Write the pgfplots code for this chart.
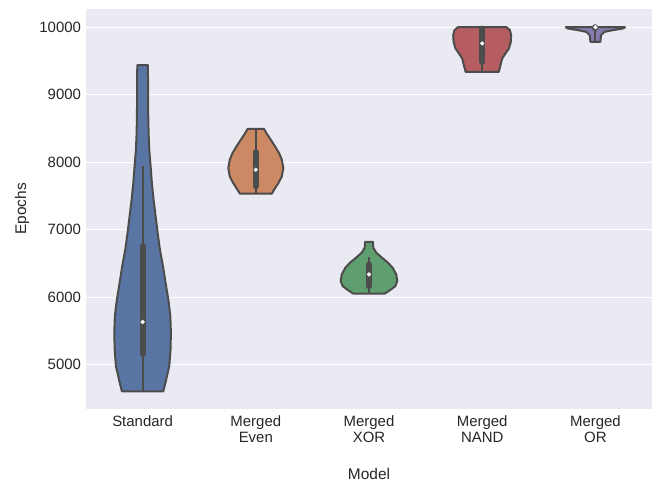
\documentclass[border=0pt]{standalone}
\usepackage{pgfplots}
\pgfplotsset{compat=1.18}
\usepackage{fontspec}
\setmainfont{Liberation Sans}
\definecolor{bgc}{HTML}{EAEAF2}
\definecolor{edgec}{HTML}{4C4C4C}
\definecolor{cA}{HTML}{5975A4}
\definecolor{cB}{HTML}{CC8963}
\definecolor{cC}{HTML}{5F9E6E}
\definecolor{cD}{HTML}{B55D60}
\definecolor{cE}{HTML}{857AAB}
\begin{document}
\begin{tikzpicture}
\useasboundingbox (-86bp,-74bp) rectangle (569bp,409bp);
\begin{axis}[
  at={(0,0)}, anchor=south west,
  scale only axis, width=566bp, height=400bp,
  xmin=-0.5, xmax=4.5, ymin=4340, ymax=10270,
  axis background/.style={fill=bgc},
  axis line style={draw=none},
  tick style={draw=none},
  ymajorgrids, grid style={white, line width=1bp},
  xtick={0,1,2,3,4},
  xticklabels={Standard, Merged\\Even, Merged\\XOR, Merged\\NAND, Merged\\OR},
  ytick={5000,6000,7000,8000,9000,10000},
  scaled y ticks=false,
  /pgf/number format/assume math mode=true,
  yticklabel={\pgfmathprintnumber[fixed,precision=0,1000 sep={}]{\tick}},
  tick label style={font=\fontsize{15}{16.5}\selectfont, text=black!85},
  xticklabel style={align=center, yshift=-3bp},
  yticklabel style={xshift=-1.5bp},
  xlabel={Model}, ylabel={Epochs},
  label style={font=\fontsize{15.5}{17}\selectfont, text=black!85},
  xlabel style={at={(axis description cs:0.5,-0.162)}, anchor=center},
  ylabel style={at={(axis description cs:-0.113,0.5)}, anchor=center},
  clip=false,
]
% violins
\addplot[fill=cA, draw=edgec, line width=2bp, line join=round] coordinates {
(0.183,4602) (0.203,4735) (0.236,4980) (0.247,5227) (0.25,5473) (0.245,5719) (0.227,5966) (0.203,6212) (0.18,6458) (0.153,6705) (0.133,6951) (0.115,7197) (0.097,7443) (0.082,7690) (0.071,7936) (0.059,8182) (0.053,8429) (0.05,8675) (0.047,9438)
(-0.047,9438) (-0.05,8675) (-0.053,8429) (-0.059,8182) (-0.071,7936) (-0.082,7690) (-0.097,7443) (-0.115,7197) (-0.133,6951) (-0.153,6705) (-0.18,6458) (-0.203,6212) (-0.227,5966) (-0.245,5719) (-0.25,5473) (-0.247,5227) (-0.236,4980) (-0.203,4735) (-0.183,4602)} -- cycle;
\addplot[fill=cB, draw=edgec, line width=2bp, line join=round] coordinates {
(1.141,7532) (1.162,7591) (1.2,7690) (1.23,7788) (1.243,7912) (1.23,8035) (1.206,8133) (1.171,8231) (1.133,8330) (1.094,8429) (1.072,8493)
(0.928,8493) (0.906,8429) (0.867,8330) (0.829,8231) (0.794,8133) (0.77,8035) (0.757,7912) (0.77,7788) (0.8,7690) (0.838,7591) (0.859,7532)} -- cycle;
\addplot[fill=cC, draw=edgec, line width=2bp, line join=round] coordinates {
(2.139,6050) (2.183,6099) (2.233,6162) (2.25,6236) (2.241,6335) (2.209,6434) (2.168,6508) (2.115,6582) (2.065,6656) (2.038,6730) (2.035,6818)
(1.965,6818) (1.962,6730) (1.935,6656) (1.885,6582) (1.832,6508) (1.791,6434) (1.759,6335) (1.75,6236) (1.767,6162) (1.817,6099) (1.861,6050)} -- cycle;
\addplot[fill=cD, draw=edgec, line width=2bp, line join=round] coordinates {
(3.147,9339) (3.162,9438) (3.177,9537) (3.206,9611) (3.236,9685) (3.253,9783) (3.256,9882) (3.245,9956) (3.215,10000)
(2.785,10000) (2.755,9956) (2.744,9882) (2.747,9783) (2.764,9685) (2.794,9611) (2.823,9537) (2.838,9438) (2.853,9339)} -- cycle;
\addplot[fill=cE, draw=edgec, line width=2bp, line join=round] coordinates {
(4.044,9783) (4.05,9882) (4.08,9931) (4.153,9956) (4.242,9980) (4.262,10000)
(3.738,10000) (3.758,9980) (3.847,9956) (3.92,9931) (3.95,9882) (3.956,9783)} -- cycle;
% whiskers
\addplot[edgec, line width=2bp] coordinates {(0,4602) (0,7946)};
\addplot[edgec, line width=2bp] coordinates {(1,7532) (1,8493)};
\addplot[edgec, line width=2bp] coordinates {(2,6050) (2,6591)};
\addplot[edgec, line width=2bp] coordinates {(3,9339) (3,10000)};
\addplot[edgec, line width=2bp] coordinates {(4,9783) (4,10000)};
% boxes
\addplot[edgec, line width=6bp, line cap=round] coordinates {(0,5153) (0,6754)};
\addplot[edgec, line width=6bp, line cap=round] coordinates {(1,7640) (1,8148)};
\addplot[edgec, line width=6bp, line cap=round] coordinates {(2,6162) (2,6483)};
\addplot[edgec, line width=6bp, line cap=round] coordinates {(3,9487) (3,9980)};
\addplot[edgec, line width=6bp, line cap=round] coordinates {(4,9985) (4,10000)};
% medians
\addplot[only marks, mark=*, mark size=1.9bp, mark options={fill=white, draw=white}] coordinates {(0,5630) (1,7887) (2,6335) (3,9759) (4,10000)};
\end{axis}
\end{tikzpicture}
\end{document}
